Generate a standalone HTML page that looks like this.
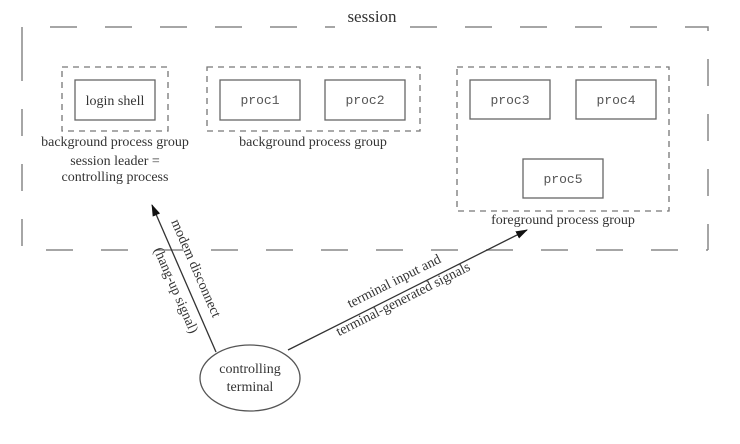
<!DOCTYPE html>
<html><head><style>
body{margin:0;background:#fff}
svg text{font-family:"Liberation Serif",serif;fill:#333}
.m{font-family:"Liberation Mono",monospace;font-size:13px;fill:#555}
</style></head><body>
<svg width="740" height="439" viewBox="0 0 740 439">
<defs><marker id="a" markerWidth="12" markerHeight="8" refX="11" refY="4" orient="auto" markerUnits="userSpaceOnUse"><path d="M0,0 L12,4 L0,8 z" fill="#111"/></marker></defs>
<g fill="none" stroke="#888" stroke-width="1.5" stroke-dasharray="27 28">
<path d="M22,54 L22,27 L335,27"/>
<path d="M410,27 L708,27 L708,250"/>
<path d="M22,54 L22,250 L708,250"/>
</g>
<text x="372" y="22" font-size="17" text-anchor="middle">session</text>
<g fill="none" stroke="#777" stroke-width="1.3" stroke-dasharray="6 5">
<rect x="62" y="67" width="106" height="64"/>
<rect x="207" y="67" width="213" height="64"/>
<rect x="457" y="67" width="212" height="144"/>
</g>
<g fill="none" stroke="#666" stroke-width="1.3">
<rect x="75" y="80" width="80" height="40"/>
<rect x="220" y="80" width="80" height="40"/>
<rect x="325" y="80" width="80" height="40"/>
<rect x="470" y="80" width="80" height="39"/>
<rect x="576" y="80" width="80" height="39"/>
<rect x="523" y="159" width="80" height="39"/>
</g>
<text x="115" y="105" font-size="14" text-anchor="middle">login shell</text>
<text class="m" x="260" y="104" text-anchor="middle">proc1</text>
<text class="m" x="365" y="104" text-anchor="middle">proc2</text>
<text class="m" x="510" y="104" text-anchor="middle">proc3</text>
<text class="m" x="616" y="104" text-anchor="middle">proc4</text>
<text class="m" x="563" y="183" text-anchor="middle">proc5</text>
<g font-size="14" text-anchor="middle">
<text x="115" y="146">background process group</text>
<text x="313" y="146">background process group</text>
<text x="115" y="165">session leader =</text>
<text x="115" y="181">controlling process</text>
<text x="563" y="224">foreground process group</text>
</g>
<ellipse cx="250" cy="378" rx="50" ry="33" fill="none" stroke="#555" stroke-width="1.3"/>
<text x="250" y="373" font-size="14" text-anchor="middle">controlling</text>
<text x="250" y="391" font-size="14" text-anchor="middle">terminal</text>
<line x1="216" y1="352" x2="152" y2="205" stroke="#333" stroke-width="1.3" marker-end="url(#a)"/>
<line x1="288" y1="350" x2="527" y2="230" stroke="#333" stroke-width="1.3" marker-end="url(#a)"/>
<g font-size="14" text-anchor="middle">
<text transform="translate(192,270) rotate(66.5)">modem disconnect</text>
<text transform="translate(172,292) rotate(66.5)">(hang-up signal)</text>
<text transform="translate(396,285) rotate(-26.7)">terminal input and</text>
<text transform="translate(405,303) rotate(-26.7)">terminal-generated signals</text>
</g>
</svg>
</body></html>
